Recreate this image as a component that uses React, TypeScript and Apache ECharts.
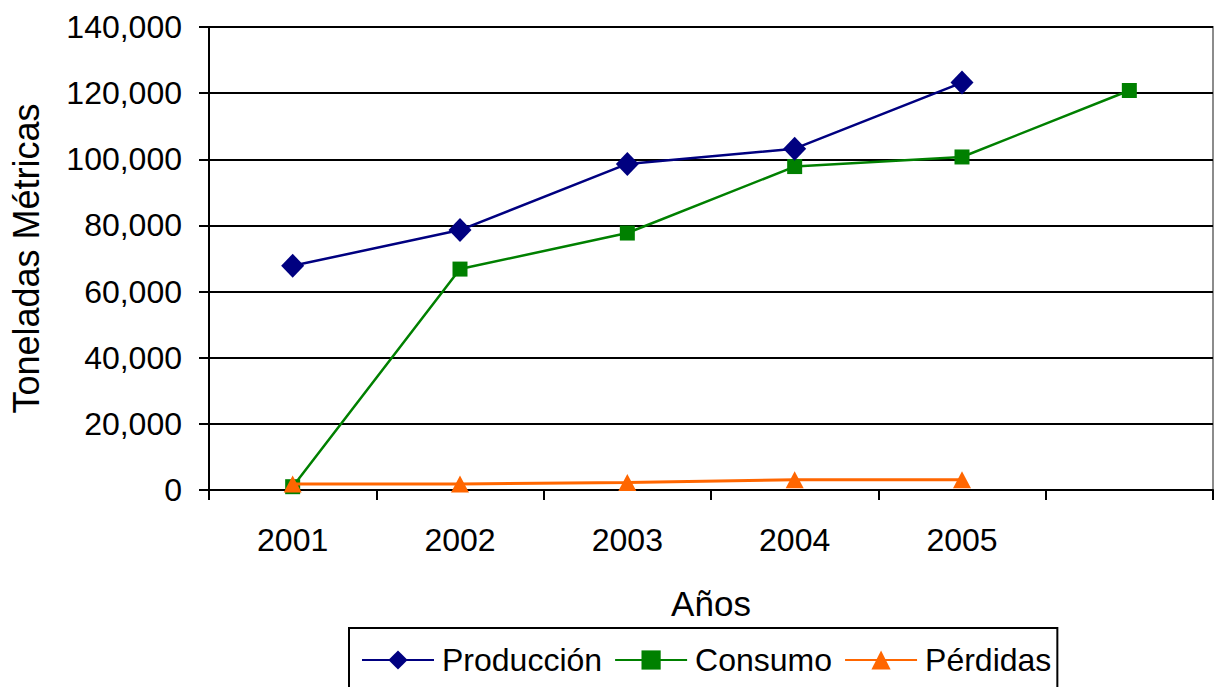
import React, { useEffect, useRef } from "react";
import * as echarts from "echarts";

const years = ["2001", "2002", "2003", "2004", "2005", ""];
const produccion = [67800, 78600, 98600, 103200, 123200];
const consumo = [1000, 66800, 77700, 97800, 100700, 120800];
const perdidas = [1800, 1800, 2300, 3100, 3100];
const yTicks = { min: 0, max: 140000, interval: 20000 };

const FONT = "'Liberation Sans', Arial, sans-serif";

export default function App() {
  const ref = useRef<HTMLDivElement>(null);

  useEffect(() => {
    if (!ref.current) return;
    const chart = echarts.init(ref.current, null, { renderer: "svg" });
    chart.setOption({
      animation: false,
      backgroundColor: "#ffffff",
      textStyle: { fontFamily: FONT, color: "#000" },
      grid: {
        left: 209,
        right: 5,
        top: 27,
        bottom: 197,
        show: true,
        borderColor: "#8c8c8c",
        borderWidth: 2,
        backgroundColor: "transparent",
      },
      legend: {
        left: 349,
        top: 628,
        padding: [16, 6, 30, 12],
        borderColor: "#000",
        borderWidth: 2,
        itemWidth: 72,
        itemHeight: 24,
        itemGap: 12,
        textStyle: { fontFamily: FONT, fontSize: 32, color: "#000", padding: [0, 0, 0, 3] },
        data: ["Producción", "Consumo", "Pérdidas"],
      },
      xAxis: {
        type: "category",
        data: years,
        boundaryGap: true,
        name: "Años",
        nameLocation: "middle",
        nameGap: 96,
        nameTextStyle: { fontFamily: FONT, fontSize: 35, color: "#000" },
        axisLine: { lineStyle: { color: "#000", width: 2 } },
        axisTick: { show: true, alignWithLabel: false, length: 10, lineStyle: { color: "#000", width: 2 } },
        axisLabel: { fontFamily: FONT, fontSize: 32, color: "#000", margin: 34 },
        splitLine: { show: false },
      },
      yAxis: {
        type: "value",
        min: yTicks.min,
        max: yTicks.max,
        interval: yTicks.interval,
        name: "Toneladas Métricas",
        nameLocation: "middle",
        nameGap: 165,
        nameRotate: 90,
        nameTextStyle: { fontFamily: FONT, fontSize: 36, color: "#000" },
        axisLine: { show: true, lineStyle: { color: "#000", width: 2 } },
        axisTick: { show: true, length: 10, lineStyle: { color: "#000", width: 2 } },
        axisLabel: {
          fontFamily: FONT,
          fontSize: 32,
          color: "#000",
          margin: 27,
          formatter: (v: number) => v.toLocaleString("en-US"),
        },
        splitLine: { show: true, lineStyle: { color: "#000", width: 2 } },
      },
      series: [
        {
          name: "Producción",
          type: "line",
          data: produccion,
          symbol: "diamond",
          symbolSize: [23, 24],
          itemStyle: { color: "#000080" },
          lineStyle: { color: "#000080", width: 2.5 },
          z: 3,
        },
        {
          name: "Consumo",
          type: "line",
          data: consumo,
          symbol: "rect",
          symbolSize: 15,
          itemStyle: { color: "#008000" },
          lineStyle: { color: "#008000", width: 2.5 },
          z: 2,
        },
        {
          name: "Pérdidas",
          type: "line",
          data: perdidas,
          symbol: "triangle",
          symbolSize: [18, 17],
          itemStyle: { color: "#ff6600" },
          lineStyle: { color: "#ff6600", width: 3 },
          z: 4,
        },
      ],
    });
    return () => chart.dispose();
  }, []);

  return (
    <div
      ref={ref}
      style={{ position: "fixed", left: 0, top: 0, width: 1218, height: 687, background: "#fff" }}
    />
  );
}
